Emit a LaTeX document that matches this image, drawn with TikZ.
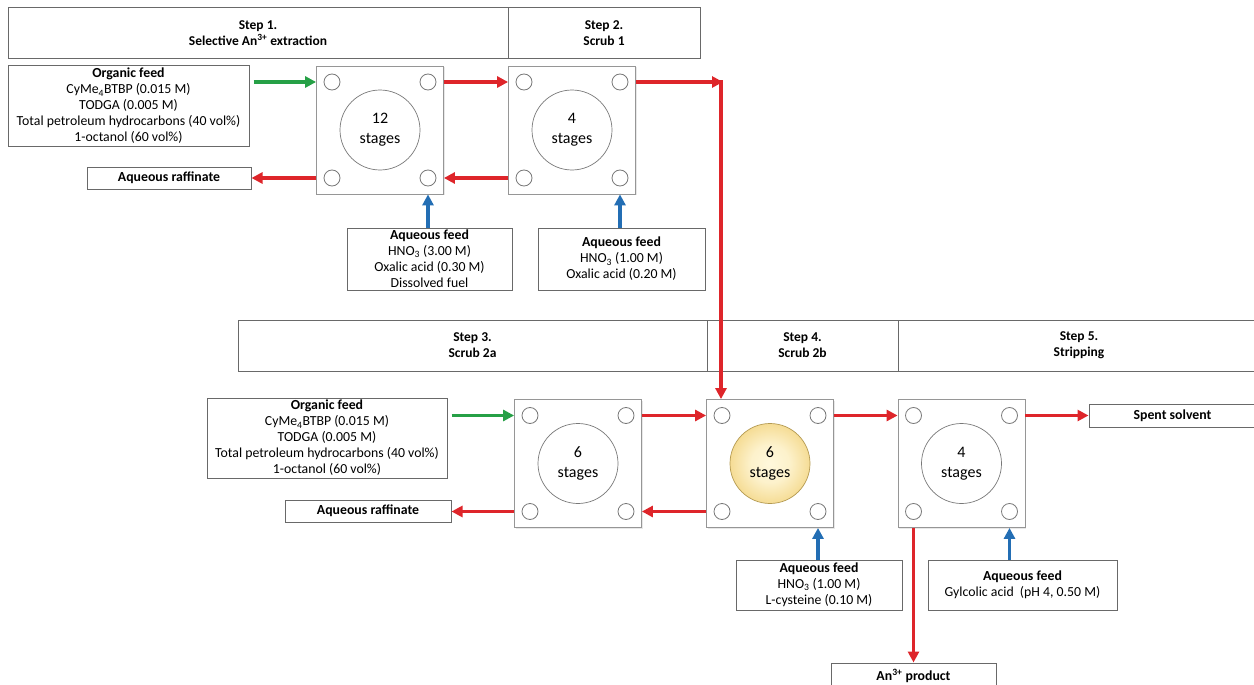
\documentclass[tikz,border=0pt]{standalone}
\usepackage{fontspec}
\setmainfont{Carlito}
\usetikzlibrary{arrows.meta,calc,shadows}

\definecolor{arred}{RGB}{222,37,42}
\definecolor{argreen}{RGB}{38,160,70}
\definecolor{arblue}{RGB}{35,110,180}
\definecolor{boxgray}{RGB}{105,105,105}
\definecolor{stgray}{RGB}{150,150,150}
\definecolor{portgray}{RGB}{120,120,120}
\definecolor{yelin}{RGB}{255,248,220}
\definecolor{yelout}{RGB}{240,205,110}

\pgfdeclareradialshading{yelshade}{\pgfpoint{0bp}{0bp}}{%
  color(0bp)=(yelin); color(12bp)=(yelin!85!yelout); color(25bp)=(yelin!35!yelout); color(30bp)=(yelout); color(50bp)=(yelout)}

\tikzset{
  txt/.style={font=\fontsize{13.8}{16}\selectfont},
  hdr/.style={font=\fontsize{13.5}{16}\selectfont\bfseries},
  box/.style={txt, draw=boxgray, line width=1pt, fill=white, align=center, inner sep=0pt},
  stagebox/.style={draw=stgray, line width=0.8pt, fill=white, minimum width=127pt, minimum height=128pt, inner sep=0pt,
    drop shadow={opacity=0.18, shadow xshift=1.2pt, shadow yshift=-1.2pt}},
  port/.style={circle, draw=portgray, line width=0.8pt, fill=white, minimum size=16pt, inner sep=0pt},
  bigc/.style={circle, draw=portgray, line width=0.7pt, fill=white, minimum size=80pt, inner sep=0pt, align=center,
    font=\fontsize{16}{20}\selectfont},
  yelc/.style={shading=yelshade, draw=yelout!75!black},
  flow/.style={line width=3.5pt, -{Triangle[length=11pt,width=11pt]}},
  redflow/.style={flow, draw=arred},
  greenflow/.style={flow, draw=argreen},
  blueflow/.style={flow, draw=arblue},
}

\newcommand\stagebox[5]{%
  \node[stagebox] (#1) at (#2,#3) {};
  \node[port] (#1tl) at ($(#1.center)+(-48,-48)$) {};
  \node[port] (#1tr) at ($(#1.center)+(48,-48)$) {};
  \node[port] (#1bl) at ($(#1.center)+(-48,48)$) {};
  \node[port] (#1br) at ($(#1.center)+(48,48)$) {};
  \node[bigc,#5] (#1c) at (#1.center) {#4\\stages};
}

\begin{document}
\begin{tikzpicture}[x=1pt,y=-1pt]
\useasboundingbox (0,0) rectangle (1254,685);
\clip (0,0) rectangle (1254,685);

% headers
\node[box, hdr, minimum width=500pt, minimum height=51pt] (h1) at (258,33.5) {Step 1.\\Selective An\textsuperscript{3+} extraction};
\node[box, hdr, minimum width=192pt, minimum height=51pt] (h2) at (604,33.5) {Step 2.\\Scrub 1};
\node[box, hdr, minimum width=469pt, minimum height=51pt] (h3) at (472.5,345.5) {Step 3.\\Scrub 2a};
\node[box, hdr, minimum width=191pt, minimum height=51pt] (h4) at (802.5,345.5) {Step 4.\\Scrub 2b};
\node[box, hdr, minimum width=362pt, minimum height=51pt] (h5) at (1079,345.5) {Step 5.\\Stripping};

% stage boxes
\stagebox{s1}{380}{130}{12}{}
\stagebox{s2}{572}{130}{4}{}
\stagebox{s3}{578}{463.5}{6}{}
\stagebox{s4}{770}{463.5}{6}{yelc}
\stagebox{s5}{961.5}{463.5}{4}{}

% feed / output boxes
\node[box, minimum width=241pt, minimum height=80pt] (of1) at (128.5,106)
  {\textbf{Organic feed}\\CyMe\textsubscript{4}BTBP (0.015 M)\\TODGA (0.005 M)\\Total petroleum hydrocarbons (40 vol\%)\\1-octanol (60 vol\%)};
\node[box, minimum width=164pt, minimum height=22pt] (raf1) at (169,178) {\textbf{Aqueous raffinate}};
\node[box, minimum width=165pt, minimum height=62pt] (aq1) at (429.5,259)
  {\textbf{Aqueous feed}\\HNO\textsubscript{3} (3.00 M)\\Oxalic acid (0.30 M)\\Dissolved fuel};
\node[box, minimum width=167pt, minimum height=62pt] (aq2) at (621.5,259)
  {\textbf{Aqueous feed}\\HNO\textsubscript{3} (1.00 M)\\Oxalic acid (0.20 M)};

\node[box, minimum width=240pt, minimum height=80pt] (of2) at (327,438)
  {\textbf{Organic feed}\\CyMe\textsubscript{4}BTBP (0.015 M)\\TODGA (0.005 M)\\Total petroleum hydrocarbons (40 vol\%)\\1-octanol (60 vol\%)};
\node[box, minimum width=166pt, minimum height=22pt] (raf2) at (368,511) {\textbf{Aqueous raffinate}};
\node[box, minimum width=167pt, minimum height=23pt] (spent) at (1172.5,415.5) {\textbf{Spent solvent}};
\node[box, minimum width=166pt, minimum height=50pt] (aq4) at (819,585)
  {\textbf{Aqueous feed}\\HNO\textsubscript{3} (1.00 M)\\L-cysteine (0.10 M)};
\node[box, minimum width=189pt, minimum height=50pt] (aq5) at (1022.5,585)
  {\textbf{Aqueous feed}\\Gylcolic acid\ \ (pH 4, 0.50 M)};
\node[box, minimum width=165pt, minimum height=26pt] (prod) at (913.5,676) {\textbf{An\textsuperscript{3+} product}};

\coordinate (bend) at (721,82);

% row 1 flows
\draw[greenflow] ([xshift=4pt]of1.east |- s1tl) -- (s1.west |- s1tl);
\draw[redflow] (s1.east |- s1tr) -- (s2.west |- s2tl);
\draw[redflow] (s2.east |- s2tr) -- ([xshift=2pt]bend);
\draw[redflow, shorten <=-1.75pt] (bend) -- (bend |- s4.north);
\draw[redflow] (s2.west |- s2bl) -- (s1.east |- s1br);
\draw[redflow] (s1.west |- s1bl) -- (raf1.east |- s1bl);
\draw[blueflow] (aq1.north -| s1br) -- (s1.south -| s1br);
\draw[blueflow] (aq2.north -| s2br) -- (s2.south -| s2br);

% row 2 flows
\draw[greenflow] ([xshift=4pt]of2.east |- s3tl) -- (s3.west |- s3tl);
\draw[redflow] (s3.east |- s3tr) -- (s4.west |- s4tl);
\draw[redflow] (s4.east |- s4tr) -- (s5.west |- s5tl);
\draw[redflow] (s5.east |- s5tr) -- (spent.west |- s5tr);
\draw[redflow] (s4.west |- s4bl) -- (s3.east |- s3br);
\draw[redflow] (s3.west |- s3bl) -- (raf2.east |- s3bl);
\draw[blueflow] (aq4.north -| s4br) -- (s4.south -| s4br);
\draw[blueflow] (aq5.north -| s5br) -- (s5.south -| s5br);
\draw[redflow] (s5.south -| s5bl) -- (prod.north -| s5bl);
\end{tikzpicture}
\end{document}
